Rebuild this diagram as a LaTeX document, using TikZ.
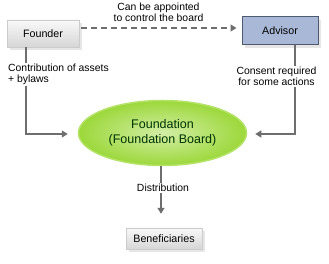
\documentclass[tikz,border=0pt]{standalone}
\usepackage{fontspec}
\setmainfont{Liberation Sans}
\usetikzlibrary{arrows.meta,shadows,positioning,shapes.geometric}
\definecolor{conn}{HTML}{6E6E6E}
\definecolor{advfill}{HTML}{A9B8D6}
\definecolor{advdraw}{HTML}{4F5A70}
\definecolor{greenfill}{HTML}{9CD83A}
\definecolor{greendraw}{HTML}{B5E36A}
\tikzset{
  graybox/.style={draw=gray!40, top color=gray!5, bottom color=gray!32, minimum height=27pt, inner sep=0pt,
     font=\fontsize{10.7}{12}\selectfont, drop shadow={opacity=0.2, shadow xshift=3pt, shadow yshift=-3pt}},
  advbox/.style={draw=advdraw, line width=1pt, fill=advfill, minimum height=28pt, inner sep=0pt,
     font=\fontsize{10.7}{12}\selectfont, drop shadow={opacity=0.2, shadow xshift=3pt, shadow yshift=-3pt}},
  conn/.style={draw=conn, line width=1.3pt, -{Triangle[length=6pt,width=7pt]}},
  lbl/.style={font=\fontsize{10.4}{11.2}\selectfont, align=left, inner sep=1pt, fill=white},
}
\begin{document}
\begin{tikzpicture}[x=1pt,y=-1pt]
\useasboundingbox (0,0) rectangle (329,264);
\node[graybox, minimum width=72pt] (founder) at (43,33.5) {Founder};
\node[advbox, minimum width=76pt] (advisor) at (280,31) {Advisor};
\node[ellipse, draw=greendraw, line width=1.5pt, inner color=greenfill!45!white, outer color=greenfill,
      minimum width=168pt, minimum height=65pt, inner sep=0pt, align=center, font=\fontsize{12.5}{15}\selectfont,
      text=green!20!black] (found) at (162.5,133) {Foundation\\(Foundation Board)};
\node[graybox, minimum width=76pt, minimum height=21pt] (benef) at (164,238.5) {Beneficiaries};
\coordinate (fl) at (26,134);
\coordinate (al) at (295,134);
\draw[conn, dashed, dash pattern=on 6pt off 4pt, shorten <=2pt, shorten >=5pt] (founder.east |- 0,28) -- (advisor.west |- 0,28);
\draw[conn, shorten >=10pt] (founder.south -| fl) -- (fl) -- (found.west |- fl);
\draw[conn, shorten >=8pt] (advisor.south -| al) -- (al) -- (found.east |- al);
\draw[conn, shorten >=14pt] (found.south -| 161,0) -- (benef.north -| 161,0);
\node[lbl, align=center, fill=none] (t1) at (158.5,12.5) {Can be appointed\\to control the board};
\node[lbl, anchor=west] (t2) at (7,74.5) {Contribution of assets\\+ bylaws};
\node[lbl, align=center] (t3) at (276.5,76.5) {Consent required\\for some actions};
\node[lbl] (t4) at (163,188) {Distribution};
\end{tikzpicture}
\end{document}
